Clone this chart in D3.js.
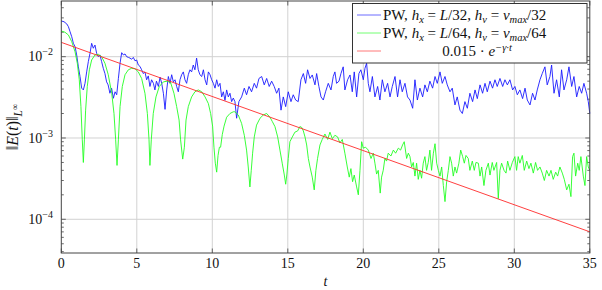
<!DOCTYPE html>
<html lang="en">
<head>
  <meta charset="UTF-8">
  <title>Error decay</title>
  <script src="https://d3js.org/d3.v7.min.js"></script>
  <style>
    body { margin: 0; padding: 0; background: #fff; }
    svg text { font-family: "Liberation Serif", "DejaVu Serif", serif; fill: #111; }
    .grid line { stroke: #d2d2d2; stroke-width: 1; }
    .tick-mark { stroke: #444; stroke-width: 0.8; }
    .frame { fill: none; stroke: #444; stroke-width: 1; }
  </style>
</head>
<body>
<div id="chart"></div>
<script>
  // values are in units of 1e-3
  const unit = 1e-3;

  // PW, hx = L/32, hv = vmax/32   [t, value]
  const blueSeries = [
    [0,27.5],[0.18,26.9],[0.36,25.3],[0.47,23.4],[0.58,20.3],[0.69,17.6],[0.8,14.6],[0.91,13.3],[1.02,10.5],[1.13,7.5],
    [1.24,5.7],[1.35,4.1],[1.46,3.9],[1.57,4.7],[1.68,6.5],[1.79,8.7],[1.9,11.0],[2.01,14.6],[2.12,12.7],[2.23,13.9],
    [2.34,11.0],[2.45,10.0],[2.56,10.5],[2.67,8.7],[2.78,7.2],[2.89,6.2],[3.0,4.9],[3.1,4.5],[3.22,3.55],[3.33,4.1],
    [3.45,3.08],[3.56,3.7],[3.67,3.4],[3.78,5.4],[3.89,8.3],[4.0,11.2],[4.11,10.5],[4.22,10.8],[4.33,10.0],[4.44,9.8],
    [4.55,9.6],[4.66,9.3],[4.77,9.8],[4.88,8.9],[4.99,9.1],[5.1,7.9],[5.21,7.6],[5.32,6.9],[5.43,6.2],[5.54,6.5],
    [5.65,5.2],[5.76,5.8],[5.87,4.3],[5.98,5.2],[6.1,4.7],[6.2,3.9],[6.3,5.0],[6.43,4.3],[6.54,5.6],[6.65,4.7],
    [6.76,3.55],[6.87,2.25],[6.98,3.9],[7.09,5.7],[7.2,4.7],[7.31,6.0],[7.42,4.9],[7.53,5.2],[7.64,4.3],[7.75,3.7],
    [7.86,5.2],[7.97,6.0],[8.08,6.5],[8.19,5.2],[8.3,4.7],[8.41,6.0],[8.52,6.9],[8.63,6.5],[8.74,7.9],[8.85,6.9],
    [8.96,9.6],[9.07,6.9],[9.18,6.0],[9.3,5.7],[9.41,6.9],[9.52,5.2],[9.63,4.5],[9.74,6.5],[9.85,6.0],[9.96,5.2],
    [10.07,4.7],[10.18,4.1],[10.29,5.2],[10.4,4.3],[10.51,4.7],[10.62,3.2],[10.73,3.7],[10.84,2.9],[10.95,3.9],[11.06,3.2],
    [11.17,3.55],[11.28,2.8],[11.39,3.1],[11.5,2.8],[11.61,1.75],[11.76,2.8],[11.94,3.2],[12.12,4.1],[12.27,3.4],[12.43,4.3],
    [12.6,3.7],[12.78,4.7],[12.93,4.1],[13.09,5.4],[13.27,5.7],[13.44,4.5],[13.6,5.4],[13.77,4.3],[13.93,5.0],[14.1,4.3],
    [14.26,3.55],[14.41,4.1],[14.55,2.2],[14.7,3.2],[14.86,2.43],[15.03,3.7],[15.21,2.8],[15.36,3.4],[15.52,2.93],[15.69,2.8],
    [15.87,5.2],[16.03,6.2],[16.18,4.7],[16.31,6.9],[16.47,5.4],[16.62,5.96],[16.8,4.5],[16.91,6.2],[17.06,4.3],[17.2,3.2],
    [17.35,2.93],[17.5,3.7],[17.68,4.7],[17.86,3.9],[18.01,5.7],[18.12,6.5],[18.23,4.7],[18.39,5.0],[18.52,6.2],[18.67,7.5],
    [18.78,3.9],[18.96,5.2],[19.12,5.96],[19.27,3.7],[19.4,6.5],[19.56,3.2],[19.71,6.2],[19.84,6.9],[20.0,5.2],[20.11,7.2],
    [20.22,8.3],[20.33,4.7],[20.44,3.7],[20.6,5.7],[20.77,3.2],[20.95,4.3],[21.1,2.93],[21.26,5.2],[21.43,3.7],[21.61,4.7],
    [21.77,3.2],[21.92,4.3],[22.1,5.7],[22.27,3.2],[22.43,5.2],[22.58,3.7],[22.76,4.7],[22.93,3.2],[23.09,2.93],[23.27,2.32],
    [23.42,5.2],[23.58,2.93],[23.75,4.1],[23.93,3.2],[24.08,4.5],[24.24,3.7],[24.41,5.0],[24.59,4.1],[24.75,5.7],[24.9,4.7],
    [25.08,6.5],[25.23,4.7],[25.41,5.7],[25.56,4.5],[25.74,3.7],[25.89,4.1],[26.07,2.55],[26.22,3.2],[26.4,2.2],[26.56,2.0],
    [26.73,2.8],[26.89,2.32],[27.06,3.55],[27.24,2.8],[27.4,3.9],[27.55,3.05],[27.73,4.5],[27.9,3.55],[28.06,4.7],[28.21,3.7],
    [28.39,5.0],[28.56,4.1],[28.72,5.2],[28.87,4.3],[29.05,5.4],[29.23,4.3],[29.38,5.2],[29.54,4.5],[29.71,5.2],[29.89,3.9],
    [30.04,4.3],[30.2,3.4],[30.37,3.9],[30.55,3.05],[30.71,4.1],[30.86,2.93],[31.04,2.55],[31.21,3.55],[31.37,2.93],[31.52,3.9],
    [31.7,5.2],[31.85,6.2],[32.03,7.5],[32.18,4.5],[32.36,5.7],[32.47,7.9],[32.63,3.55],[32.8,5.2],[32.98,3.2],[33.13,6.9],
    [33.29,3.9],[33.47,5.2],[33.62,7.5],[33.8,4.3],[33.95,5.7],[34.13,3.2],[34.3,4.3],[34.46,3.55],[34.61,4.7],[34.79,3.55],
    [34.9,2.8],[35.0,2.0]
  ];

  // PW, hx = L/64, hv = vmax/64   [t, value]
  const greenSeries = [
    [0,20.7],[0.24,20.0],[0.47,18.5],[0.69,15.3],[0.91,11.5],[1.06,8.3],[1.19,5.2],[1.3,2.43],[1.39,0.95],[1.46,0.5],
    [1.53,0.95],[1.61,2.2],[1.72,4.3],[1.86,6.9],[2.01,9.1],[2.23,10.5],[2.45,10.7],[2.67,10.0],[2.89,8.3],[3.11,6.0],
    [3.34,3.55],[3.49,2.0],[3.6,0.95],[3.69,0.46],[3.78,0.95],[3.89,2.43],[4.04,4.3],[4.22,6.0],[4.44,6.9],[4.66,7.2],
    [4.88,7.1],[5.1,6.5],[5.32,5.4],[5.54,3.55],[5.7,2.0],[5.81,0.95],[5.87,0.46],[5.96,0.95],[6.09,2.0],[6.27,3.2],
    [6.49,4.3],[6.76,4.9],[7.02,5.0],[7.24,4.8],[7.46,3.55],[7.64,2.43],[7.8,1.66],[7.9,0.95],[8.04,0.55],[8.15,0.77],
    [8.26,1.66],[8.41,2.43],[8.63,3.2],[8.85,3.7],[9.07,3.9],[9.3,3.7],[9.52,3.2],[9.74,2.65],[9.89,2.0],[10.02,1.4],
    [10.11,0.77],[10.2,0.49],[10.29,0.38],[10.38,0.61],[10.47,0.77],[10.55,0.77],[10.66,1.1],[10.78,1.4],[10.95,1.8],[11.17,2.0],
    [11.39,2.1],[11.5,2.1],[11.72,1.92],[11.94,1.51],[12.12,1.08],[12.27,0.71],[12.38,0.44],[12.49,0.25],[12.58,0.4],[12.67,0.65],
    [12.78,1.03],[12.93,1.44],[13.16,1.75],[13.38,1.92],[13.6,2.0],[13.82,1.8],[13.97,1.6],[14.15,1.38],[14.33,1.03],[14.48,0.71],
    [14.63,0.49],[14.77,0.35],[14.86,0.27],[14.94,0.36],[15.03,0.56],[15.14,0.9],[15.3,1.03],[15.47,1.18],[15.65,1.22],[15.8,1.38],
    [15.92,1.35],[16.03,1.22],[16.14,1.03],[16.25,0.82],[16.36,0.56],[16.47,0.44],[16.62,0.33],[16.75,0.23],[16.86,0.4],[16.97,0.56],
    [17.13,0.82],[17.28,0.96],[17.46,1.12],[17.64,0.96],[17.79,1.18],[17.95,0.98],[18.12,1.08],[18.3,1.03],[18.45,0.87],[18.61,0.96],
    [18.78,0.65],[18.94,0.44],[19.07,0.33],[19.18,0.42],[19.29,0.29],[19.4,0.35],[19.56,0.25],[19.67,0.2],[19.78,0.4],[19.89,0.9],
    [20.0,0.75],[20.15,0.77],[20.33,0.71],[20.51,0.56],[20.66,0.65],[20.77,0.49],[20.88,0.36],[20.99,0.4],[21.12,0.21],[21.21,0.33],
    [21.32,0.4],[21.43,0.56],[21.54,0.52],[21.65,0.65],[21.83,0.6],[21.99,0.71],[22.14,0.65],[22.32,0.75],[22.47,0.71],[22.6,0.82],
    [22.71,0.9],[22.87,0.56],[22.98,0.65],[23.09,0.59],[23.2,0.44],[23.31,0.5],[23.42,0.34],[23.53,0.49],[23.64,0.31],[23.75,0.4],
    [23.86,0.32],[23.97,0.49],[24.08,0.59],[24.19,0.4],[24.3,0.5],[24.41,0.71],[24.52,0.4],[24.64,0.65],[24.75,0.85],[24.86,0.49],
    [24.97,0.4],[25.08,0.34],[25.19,0.44],[25.3,0.26],[25.41,0.165],[25.52,0.29],[25.63,0.4],[25.74,0.59],[25.85,0.49],[25.96,0.34],
    [26.07,0.44],[26.18,0.37],[26.33,0.49],[26.45,0.71],[26.58,0.59],[26.69,0.49],[26.8,0.61],[26.95,0.56],[27.06,0.4],[27.22,0.52],
    [27.35,0.4],[27.46,0.5],[27.62,0.49],[27.73,0.34],[27.84,0.44],[27.99,0.26],[28.12,0.4],[28.28,0.49],[28.39,0.35],[28.54,0.5],
    [28.65,0.4],[28.83,0.5],[28.94,0.18],[29.05,0.4],[29.16,0.49],[29.32,0.4],[29.45,0.37],[29.56,0.52],[29.71,0.4],[29.87,0.5],
    [30.04,0.59],[30.15,0.4],[30.26,0.59],[30.37,0.49],[30.53,0.61],[30.66,0.4],[30.82,0.52],[30.97,0.42],[31.1,0.49],[31.26,0.37],
    [31.41,0.5],[31.54,0.4],[31.7,0.44],[31.85,0.37],[31.99,0.3],[32.14,0.4],[32.3,0.34],[32.43,0.4],[32.58,0.31],[32.74,0.38],
    [32.87,0.34],[33.02,0.44],[33.18,0.37],[33.31,0.31],[33.47,0.23],[33.62,0.27],[33.75,0.19],[33.86,0.59],[33.95,0.65],[34.06,0.34],
    [34.2,0.49],[34.3,0.4],[34.41,0.59],[34.57,0.34],[34.68,0.26],[34.79,0.59],[34.9,0.44],[35.0,0.4]
  ];

  // reference decay 0.015 * exp(-gamma t)
  const refAmp = 0.015;
  const gamma = 0.1533;
  const refT = [0, 35];

  const xTicks = [0, 5, 10, 15, 20, 25, 30, 35];
  const yTicks = [1e-4, 1e-3, 1e-2];
  const yDecades = [1e-5, 1e-4, 1e-3, 1e-2];

  const width = 602, height = 290;
  const plotL = 61.3, plotR = 589.8, plotT = 1, plotB = 253;
  const serif = '"Liberation Serif", "DejaVu Serif", serif';

  const svg = d3.select('#chart').append('svg')
    .attr('width', width)
    .attr('height', height)
    .attr('font-family', serif);

  const x = d3.scaleLinear().domain([0, 35]).range([plotL, plotR]);
  const y = d3.scaleLog().domain([3.85e-5, 0.0484]).range([plotB, plotT]);

  // grid
  const grid = svg.append('g').attr('class', 'grid');
  grid.selectAll('.gx').data(xTicks.slice(1, -1)).enter().append('line')
    .attr('x1', d => x(d)).attr('x2', d => x(d))
    .attr('y1', plotT).attr('y2', plotB);
  grid.selectAll('.gy').data(yTicks).enter().append('line')
    .attr('x1', plotL).attr('x2', plotR)
    .attr('y1', d => y(d)).attr('y2', d => y(d));

  // minor ticks on log axis (left and right, pointing inward)
  const minor = [];
  yDecades.forEach(dec => { for (let k = 2; k <= 9; k++) minor.push(dec * k); });
  const minorIn = minor.filter(v => y(v) > plotT && y(v) < plotB);
  const ticks = svg.append('g');
  ticks.selectAll('.ml').data(minorIn).enter().append('line').attr('class', 'tick-mark')
    .attr('x1', plotL).attr('x2', plotL + 2.5)
    .attr('y1', d => y(d)).attr('y2', d => y(d));
  ticks.selectAll('.mr').data(minorIn).enter().append('line').attr('class', 'tick-mark')
    .attr('x1', plotR).attr('x2', plotR - 2.5)
    .attr('y1', d => y(d)).attr('y2', d => y(d));
  ticks.selectAll('.Ml').data(yTicks).enter().append('line').attr('class', 'tick-mark')
    .attr('x1', plotL).attr('x2', plotL + 4.5)
    .attr('y1', d => y(d)).attr('y2', d => y(d));
  ticks.selectAll('.Mr').data(yTicks).enter().append('line').attr('class', 'tick-mark')
    .attr('x1', plotR).attr('x2', plotR - 4.5)
    .attr('y1', d => y(d)).attr('y2', d => y(d));
  ticks.selectAll('.xb').data(xTicks).enter().append('line').attr('class', 'tick-mark')
    .attr('x1', d => x(d)).attr('x2', d => x(d))
    .attr('y1', plotB).attr('y2', plotB - 4.5);
  ticks.selectAll('.xt').data(xTicks).enter().append('line').attr('class', 'tick-mark')
    .attr('x1', d => x(d)).attr('x2', d => x(d))
    .attr('y1', plotT).attr('y2', plotT + 4.5);

  // series
  const line = d3.line().x(d => x(d[0])).y(d => y(d[1] * unit));
  const plot = svg.append('g');
  plot.append('path').datum(blueSeries)
    .attr('d', line).attr('fill', 'none').attr('stroke', '#1a1aff').attr('stroke-width', 0.9);
  plot.append('path').datum(greenSeries)
    .attr('d', line).attr('fill', 'none').attr('stroke', '#22ff22').attr('stroke-width', 0.9);
  const refLine = d3.line().x(d => x(d)).y(d => y(refAmp * Math.exp(-gamma * d)));
  plot.append('path').datum(refT)
    .attr('d', refLine).attr('fill', 'none').attr('stroke', '#ff2a2a').attr('stroke-width', 0.9);

  // frame
  svg.append('rect').attr('class', 'frame')
    .attr('x', plotL).attr('y', plotT)
    .attr('width', plotR - plotL).attr('height', plotB - plotT);

  // tick labels
  svg.selectAll('.xl').data(xTicks).enter().append('text')
    .attr('x', d => x(d)).attr('y', 268)
    .attr('text-anchor', 'middle').attr('font-size', 14)
    .text(d => d);

  const exps = { 1e-4: '−4', 1e-3: '−3', 1e-2: '−2' };
  yTicks.forEach(v => {
    const t = svg.append('text').attr('x', 53).attr('y', y(v) + 4.8)
      .attr('text-anchor', 'end').attr('font-size', 14);
    t.append('tspan').text('10');
    t.append('tspan').attr('dy', -6).attr('font-size', 10).text(exps[v]);
  });

  // rich text helper: parts of {s, i (italic), dy, fs}
  function rich(sel, parts) {
    parts.forEach(p => {
      const ts = sel.append('tspan').text(p.s);
      if (p.i) ts.attr('font-style', 'italic');
      if (p.dy) ts.attr('dy', p.dy);
      if (p.fs) ts.attr('font-size', p.fs);
    });
    return sel;
  }

  // axis labels
  rich(svg.append('text').attr('x', 325.5).attr('y', 286)
    .attr('text-anchor', 'middle').attr('font-size', 14), [{ s: 't', i: 1 }]);

  rich(svg.append('text')
    .attr('transform', 'translate(18,' + ((plotT + plotB) / 2) + ') rotate(-90)')
    .attr('text-anchor', 'middle').attr('font-size', 16), [
      { s: '‖' }, { s: 'E', i: 1 }, { s: '(' }, { s: 't', i: 1 }, { s: ')‖' },
      { s: 'L', i: 1, dy: 3.5, fs: 11.5 }, { s: '∞', dy: -3.5, fs: 9 }
    ]);

  // legend
  const lg = svg.append('g');
  lg.append('rect').attr('x', 352.5).attr('y', 3.5).attr('width', 234.5).attr('height', 59.5)
    .attr('fill', '#fff').attr('stroke', '#333').attr('stroke-width', 1);

  const legendRes = ['32', '64'];
  const legendColors = ['#1a1aff', '#22ff22', '#ff2a2a'];
  const rowY = [15, 33, 51];

  legendColors.forEach((c, i) => {
    lg.append('line').attr('x1', 357).attr('x2', 381)
      .attr('y1', rowY[i]).attr('y2', rowY[i])
      .attr('stroke', c).attr('stroke-width', 0.9).attr('opacity', 0.7);
  });

  legendRes.forEach((r, i) => {
    rich(lg.append('text').attr('x', 383).attr('y', rowY[i] + 5).attr('font-size', 15), [
      { s: 'PW, ' }, { s: 'h', i: 1 }, { s: 'x', i: 1, dy: 2.5, fs: 10.5 },
      { s: ' = ', dy: -2.5 }, { s: 'L', i: 1 }, { s: '/' + r + ', ' },
      { s: 'h', i: 1 }, { s: 'v', i: 1, dy: 2.5, fs: 10.5 },
      { s: ' = ', dy: -2.5 }, { s: 'v', i: 1 }, { s: 'max', i: 1, dy: 2.5, fs: 10.5 },
      { s: '/' + r, dy: -2.5 }
    ]);
  });

  rich(lg.append('text').attr('x', 477).attr('y', rowY[2] + 5)
    .attr('text-anchor', 'middle').attr('font-size', 15), [
      { s: String(refAmp) + ' · ' }, { s: 'e', i: 1 },
      { s: '−γ·', i: 1, dy: -5.5, fs: 10.5 }, { s: 't', i: 1, fs: 10.5 }
    ]);
</script>
</body>
</html>
